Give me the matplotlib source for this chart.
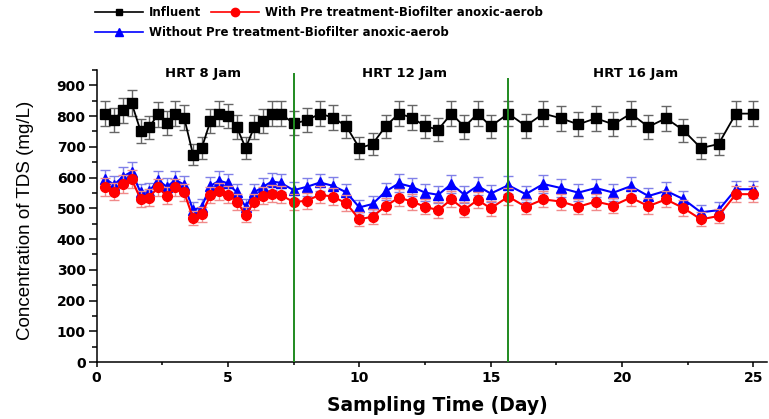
import matplotlib

matplotlib.use('Agg')

import matplotlib.pyplot as plt
from matplotlib.lines import Line2D
from matplotlib.ticker import MultipleLocator

# sampling days (8 h, 12 h, 16 h intervals)
days = [0.33, 0.67, 1.0, 1.33, 1.67, 2.0, 2.33, 2.67, 3.0, 3.33, 3.67, 4.0,
        4.33, 4.67, 5.0, 5.33, 5.67, 6.0, 6.33, 6.67, 7.0, 7.5,
        8.0, 8.5, 9.0, 9.5, 10.0, 10.5, 11.0, 11.5, 12.0, 12.5, 13.0, 13.5,
        14.0, 14.5, 15.0, 15.67,
        16.33, 17.0, 17.67, 18.33, 19.0, 19.67, 20.33, 21.0, 21.67, 22.33,
        23.0, 23.67, 24.33, 25.0]

influent = [808, 788, 819, 843, 752, 763, 806, 778, 808, 795, 674, 696,
            784, 808, 800, 765, 696, 765, 784, 808, 808, 776,
            786, 808, 795, 767, 696, 709, 767, 808, 795, 767, 756, 808,
            765, 808, 767, 808,
            768, 808, 793, 773, 793, 773, 808, 765, 793, 754,
            696, 709, 808, 808]
influent_err = [40, 39, 41, 42, 38, 38, 40, 39, 40, 40, 34, 35,
                39, 40, 40, 38, 35, 38, 39, 40, 40, 39,
                39, 40, 40, 38, 35, 35, 38, 40, 40, 38, 38, 40,
                38, 40, 38, 40,
                38, 40, 40, 39, 40, 39, 40, 38, 40, 38,
                35, 35, 40, 40]

with_pre = [570, 554, 579, 595, 530, 535, 568, 541, 568, 552, 468, 481,
            543, 555, 544, 522, 479, 520, 541, 548, 544, 520,
            525, 544, 538, 516, 464, 473, 507, 535, 522, 505, 494, 529,
            496, 527, 500, 538,
            505, 529, 522, 505, 522, 509, 535, 507, 529, 501,
            464, 475, 546, 546]
with_pre_err = [29, 28, 29, 30, 27, 27, 28, 27, 28, 28, 23, 24,
                27, 28, 27, 26, 24, 26, 27, 27, 27, 26,
                26, 27, 27, 26, 23, 24, 25, 27, 26, 25, 25, 26,
                25, 26, 25, 27,
                25, 26, 26, 25, 26, 25, 27, 25, 26, 25,
                23, 24, 27, 27]

without_pre = [595, 577, 603, 619, 552, 555, 592, 570, 592, 577, 494, 505,
               573, 590, 581, 552, 505, 552, 570, 587, 583, 559,
               570, 584, 573, 552, 503, 514, 555, 581, 570, 551, 544, 579,
               544, 573, 548, 575,
               546, 579, 566, 551, 566, 551, 572, 540, 557, 530,
               487, 494, 562, 562]
without_pre_err = [30, 29, 30, 31, 28, 28, 30, 29, 30, 29, 25, 25,
                   29, 30, 29, 28, 25, 28, 29, 29, 29, 28,
                   29, 29, 29, 28, 25, 26, 28, 29, 29, 28, 27, 29,
                   27, 29, 27, 29,
                   27, 29, 28, 28, 28, 28, 29, 27, 28, 27,
                   24, 25, 28, 28]

labels = ["Influent",
          "Without Pre treatment-Biofilter anoxic-aerob",
          "With Pre treatment-Biofilter anoxic-aerob"]
hrt_labels = ["HRT 8 Jam", "HRT 12 Jam", "HRT 16 Jam"]
hrt_label_x = [4.05, 11.7, 20.5]
hrt_bounds = [7.5, 15.67]

fig = plt.figure(figsize=(7.69, 4.19), dpi=100)
ax = fig.add_axes([0.1257, 0.136, 0.8712, 0.697])

ax.errorbar(days, influent, yerr=influent_err, color='black', lw=1.3,
            marker='s', markersize=6.5, ecolor='#666666', elinewidth=1,
            capsize=3.8, capthick=1, zorder=3)
ax.errorbar(days, without_pre, yerr=without_pre_err, color='#0000ff', lw=1.5,
            marker='^', markersize=7.5, ecolor='#8080e8', elinewidth=1,
            capsize=3.8, capthick=1, zorder=2)
ax.errorbar(days, with_pre, yerr=with_pre_err, color='#ff0000', lw=1.5,
            marker='o', markersize=7, ecolor='#f08a8a', elinewidth=1,
            capsize=3.8, capthick=1, zorder=2.5)

# phase separators
ax.axvline(hrt_bounds[0], ymax=0.986, color='#1f8a1f', lw=1.4, zorder=4)
ax.axvline(hrt_bounds[1], ymax=0.969, color='#1f8a1f', lw=1.4, zorder=4)

for x, t in zip(hrt_label_x, hrt_labels):
    ax.text(x, 940, t, ha='center', va='center', fontsize=9.5,
            fontweight='bold', family='DejaVu Sans', clip_on=False)

ax.set_xlim(0, 25.5)
ax.set_ylim(0, 950)
ax.xaxis.set_major_locator(MultipleLocator(5))
ax.xaxis.set_minor_locator(MultipleLocator(2.5))
ax.yaxis.set_major_locator(MultipleLocator(100))
ax.yaxis.set_minor_locator(MultipleLocator(50))

ax.spines['top'].set_visible(False)
ax.spines['right'].set_visible(False)
ax.spines['left'].set_linewidth(1.1)
ax.spines['bottom'].set_linewidth(1.1)

ax.tick_params(axis='x', which='major', length=3.5, width=1.1, pad=3)
ax.tick_params(axis='x', which='minor', length=2, width=1.1)
ax.tick_params(axis='y', which='major', length=6, width=1.1, pad=2)
ax.tick_params(axis='y', which='minor', length=3.5, width=1.1)
for lab in ax.get_xticklabels() + ax.get_yticklabels():
    lab.set_family('DejaVu Sans')
    lab.set_fontweight('bold')
    lab.set_fontsize(10)

ax.set_xlabel("Sampling Time (Day)", fontsize=13.5, fontweight='bold',
              family='DejaVu Sans')
ax.xaxis.set_label_coords(0.508, -0.115)
ax.set_ylabel("Concentration of TDS (mg/L)", fontsize=13.5,
              family='Liberation Sans')
ax.yaxis.set_label_coords(-0.094, 0.485)

# legend: two rows, not column-aligned
h_inf = Line2D([], [], color='black', lw=1.2, marker='s', markersize=5)
h_with = Line2D([], [], color='#ff0000', lw=1.2, marker='o', markersize=6)
h_without = Line2D([], [], color='#0000ff', lw=1.2, marker='^', markersize=6)
leg_font = {'family': 'DejaVu Sans', 'weight': 'bold', 'size': 8.5}

leg1 = fig.legend([h_inf, h_with], [labels[0], labels[2]], ncol=2,
                  loc='upper left', bbox_to_anchor=(95 / 769, 1 - 6 / 419),
                  frameon=False, prop=leg_font, handlelength=4.1,
                  handletextpad=0.5, columnspacing=0.8, borderpad=0,
                  borderaxespad=0, numpoints=1)
leg2 = fig.legend([h_without], [labels[1]],
                  loc='upper left', bbox_to_anchor=(95 / 769, 1 - 26 / 419),
                  frameon=False, prop=leg_font, handlelength=4.1,
                  handletextpad=0.5, borderpad=0, borderaxespad=0,
                  numpoints=1)

plt.savefig("out.png", dpi=100)
plt.close()
